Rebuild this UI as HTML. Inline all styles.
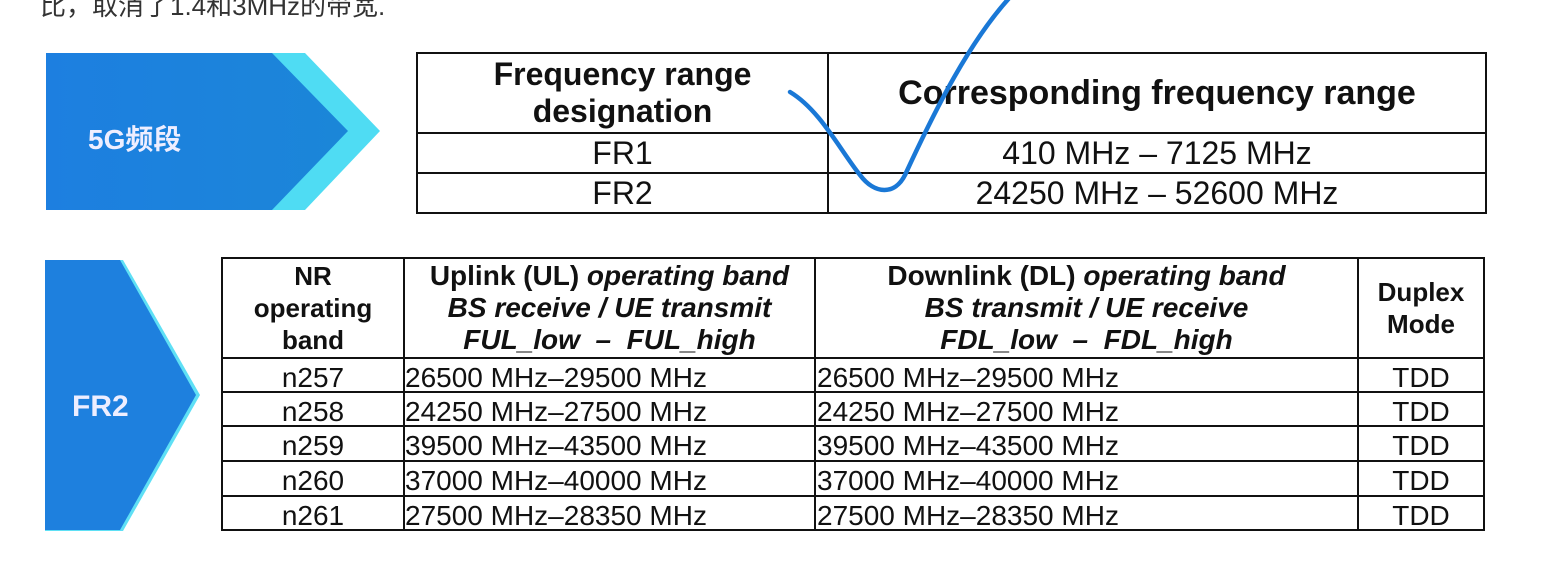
<!DOCTYPE html>
<html><head><meta charset="utf-8"><style>
body{margin:0;width:1568px;height:564px;background:#fff;overflow:hidden;position:relative;font-family:"Liberation Sans","Noto Sans CJK SC",sans-serif;color:#111}
.c{position:absolute;display:flex;align-items:center;justify-content:center;text-align:center;box-sizing:border-box;white-space:nowrap}
.l{justify-content:flex-start}
.b{font-weight:bold}
.ln{position:absolute;background:#111}
</style></head><body>
<div style="position:absolute;left:40px;top:-14px;font-size:26px;color:#333">比，取消了1.4和3MHz的带宽.</div>

<svg width="1568" height="564" style="position:absolute;left:0;top:0">
<defs><linearGradient id="g" x1="0" x2="1"><stop offset="0" stop-color="#1d7fe0"/><stop offset="1" stop-color="#1b86d8"/></linearGradient></defs>
<polygon points="272,53 305,53 380,131 305,210 272,210" fill="#4fdcf3"/>
<polygon points="46,53 272,53 348,131 272,210 46,210" fill="url(#g)"/>
<text x="88" y="149" font-size="28" font-weight="bold" fill="#eef" font-family="Liberation Sans, Noto Sans CJK SC, sans-serif">5G频段</text>
<polygon points="45,260 123,260 200,395 123,531 45,531" fill="#5fe0f5"/>
<polygon points="45,260 120,260 196,395 120,530 45,530" fill="#1e80de"/>
<text x="72" y="416" font-size="30" font-weight="bold" fill="#eef" font-family="Liberation Sans, sans-serif">FR2</text>
</svg>

<div>
<div class="ln" style="left:416px;top:52px;width:1071px;height:2px"></div>
<div class="ln" style="left:416px;top:132px;width:1071px;height:2px"></div>
<div class="ln" style="left:416px;top:172px;width:1071px;height:2px"></div>
<div class="ln" style="left:416px;top:212px;width:1071px;height:2px"></div>
<div class="ln" style="left:416px;top:52px;width:2px;height:162px"></div>
<div class="ln" style="left:827px;top:52px;width:2px;height:162px"></div>
<div class="ln" style="left:1485px;top:52px;width:2px;height:162px"></div>
<div class="c b" style="left:418px;top:54px;width:409px;height:78px;font-size:32px;line-height:37px"><div>Frequency range<br>designation</div></div>
<div class="c b" style="left:829px;top:54px;width:656px;height:78px;font-size:34px"><div>Corresponding frequency range</div></div>
<div class="c" style="left:418px;top:134px;width:409px;height:38px;font-size:32px">FR1</div>
<div class="c" style="left:829px;top:134px;width:656px;height:38px;font-size:32px">410 MHz – 7125 MHz</div>
<div class="c" style="left:418px;top:174px;width:409px;height:38px;font-size:32px">FR2</div>
<div class="c" style="left:829px;top:174px;width:656px;height:38px;font-size:32px">24250 MHz – 52600 MHz</div>
</div>

<div>
<div class="ln" style="left:221px;top:257px;width:1264px;height:2px"></div>
<div class="ln" style="left:221px;top:357px;width:1264px;height:2px"></div>
<div class="ln" style="left:221px;top:391px;width:1264px;height:2px"></div>
<div class="ln" style="left:221px;top:425px;width:1264px;height:2px"></div>
<div class="ln" style="left:221px;top:460px;width:1264px;height:2px"></div>
<div class="ln" style="left:221px;top:495px;width:1264px;height:2px"></div>
<div class="ln" style="left:221px;top:529px;width:1264px;height:2px"></div>
<div class="ln" style="left:221px;top:257px;width:2px;height:274px"></div>
<div class="ln" style="left:403px;top:257px;width:2px;height:274px"></div>
<div class="ln" style="left:814px;top:257px;width:2px;height:274px"></div>
<div class="ln" style="left:1357px;top:257px;width:2px;height:274px"></div>
<div class="ln" style="left:1483px;top:257px;width:2px;height:274px"></div>
<div class="c b" style="left:223px;top:259px;width:180px;height:98px;font-size:26px;line-height:32px"><div>NR<br>operating<br>band</div></div>
<div class="c b" style="left:405px;top:259px;width:409px;height:98px;font-size:28px;line-height:32px"><div>Uplink (UL) <i>operating band</i><br><i>BS receive / UE transmit</i><br><i>FUL_low &nbsp;– &nbsp;FUL_high</i></div></div>
<div class="c b" style="left:816px;top:259px;width:541px;height:98px;font-size:28px;line-height:32px"><div>Downlink (DL) <i>operating band</i><br><i>BS transmit / UE receive</i><br><i>FDL_low &nbsp;– &nbsp;FDL_high</i></div></div>
<div class="c b" style="left:1359px;top:259px;width:124px;height:98px;font-size:26px;line-height:32px"><div>Duplex<br>Mode</div></div>
<div id="rows"></div>
</div>

<svg width="1568" height="564" style="position:absolute;left:0;top:0">
<path d="M790,92 C820,110 840,150 860,175 C875,195 895,195 905,175 C935,110 970,40 1012,-5" fill="none" stroke="#1a78d6" stroke-width="4.5" stroke-linecap="round"/>
</svg>

<script>
const bands=["n257","n258","n259","n260","n261"];
const ul=["26500 MHz–29500 MHz","24250 MHz–27500 MHz","39500 MHz–43500 MHz","37000 MHz–40000 MHz","27500 MHz–28350 MHz"];
const dl=["26500 MHz–29500 MHz","24250 MHz–27500 MHz","39500 MHz–43500 MHz","37000 MHz–40000 MHz","27500 MHz–28350 MHz"];
const duplex=["TDD","TDD","TDD","TDD","TDD"];
const tops=[359,393,427,462,497];
const rows=document.getElementById('rows');
function cell(txt,left,top,w,cls,name){
  const d=document.createElement('div');
  d.className='c '+cls;
  d.style.cssText=`left:${left}px;top:${top}px;width:${w}px;height:34px;font-size:28px;padding-top:4px`;
  d.textContent=txt;
  
  
  rows.appendChild(d);
}
bands.forEach((b,i)=>{
  const t=tops[i];
  cell(b,223,t,180,'','band-'+b);
  cell(ul[i],405,t,409,'l','uplink-'+b);
  cell(dl[i],817,t,540,'l','downlink-'+b);
  cell(duplex[i],1359,t,124,'','duplex-'+b);
});
</script>
</body></html>
